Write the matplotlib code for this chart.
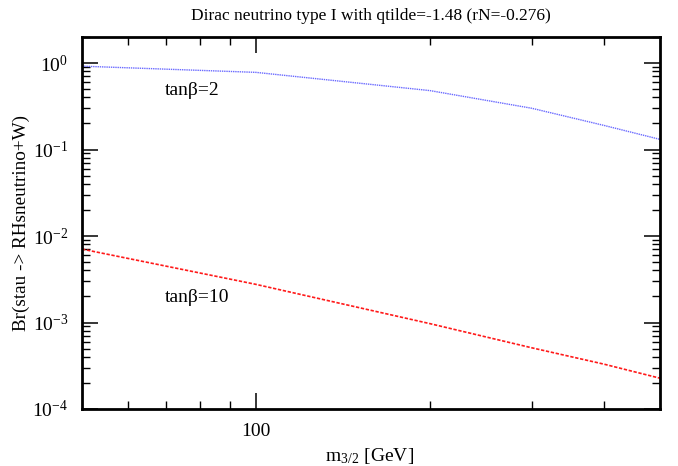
import matplotlib
matplotlib.use("Agg")
import matplotlib.pyplot as plt
from matplotlib.ticker import LogLocator, FixedLocator, NullFormatter, FixedFormatter

plt.rcParams['font.family'] = ['Liberation Serif', 'DejaVu Serif']
plt.rcParams['mathtext.fontset'] = 'stix'

m32 = [50, 100, 200, 300, 400, 500]
br_tanb2 = [0.92, 0.78, 0.48, 0.30, 0.19, 0.131]
br_tanb10 = [7.06e-3, 2.76e-3, 9.7e-4, 5.1e-4, 3.3e-4, 2.27e-4]

title = "Dirac neutrino type I with qtilde=-1.48 (rN=-0.276)"
xlabel = r"m$_{\mathregular{3/2}}$ [GeV]"
ylabel = "Br(stau -> RHsneutrino+W)"
label2 = "tan\u03b2=2"
label10 = "tan\u03b2=10"

W, H = 678, 466
fig = plt.figure(figsize=(W / 100, H / 100), dpi=100)
ax = fig.add_axes([82 / W, 1 - 409 / H, (660 - 82) / W, (409 - 37) / H])

ax.plot(m32, br_tanb2, color='#6a6aff', lw=1.0, linestyle=(0, (1, 0.6)))
ax.plot(m32, br_tanb10, color='#ff1a1a', lw=1.2, linestyle=(0, (2, 1)))

ax.set_xscale('log')
ax.set_yscale('log')
ax.set_xlim(50, 500)
ax.set_ylim(1e-4, 2)

ax.xaxis.set_major_locator(FixedLocator([100]))
ax.xaxis.set_major_formatter(FixedFormatter(['100']))
ax.xaxis.set_minor_locator(FixedLocator([60, 70, 80, 90, 200, 300, 400]))
ax.xaxis.set_minor_formatter(NullFormatter())
ax.yaxis.set_major_locator(LogLocator(base=10, numticks=10))
ax.yaxis.set_minor_locator(LogLocator(base=10, subs=range(2, 10), numticks=20))
ax.yaxis.set_minor_formatter(NullFormatter())

for s in ax.spines.values():
    s.set_linewidth(2)
ax.tick_params(axis='both', which='major', direction='in', top=True, right=True,
               length=11.5, width=1.1, labelsize=14)
ax.tick_params(axis='both', which='minor', direction='in', top=True, right=True,
               length=6, width=1.0)
ax.tick_params(axis='x', which='major', pad=10)
ax.tick_params(axis='y', which='major', pad=10)

ax.set_title(title, fontsize=12.5, pad=12)
fig.text(370 / W, 1 - 461 / H, xlabel, fontsize=14, ha='center', va='baseline')
fig.text(21 / W, 1 - 223 / H, ylabel, fontsize=13.8, ha='center', va='center',
         rotation=90)

ax.text(69.6, 0.484, label2, fontsize=14, va='center', ha='left')
ax.text(69.6, 1.97e-3, label10, fontsize=14, va='center', ha='left')

fig.savefig("out.png", dpi=100)
